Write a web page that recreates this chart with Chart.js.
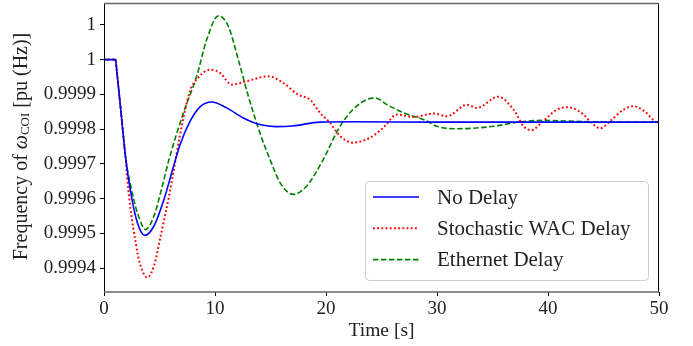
<!DOCTYPE html>
<html>
<head>
<meta charset="utf-8">
<script src="https://cdn.jsdelivr.net/npm/chart.js@4/dist/chart.umd.min.js"></script>
<style>
  html, body { margin: 0; padding: 0; background: #fff; }
  #c { display: block; }
</style>
</head>
<body>
<canvas id="c" width="693" height="346"></canvas>
<script>
// series
const noDelayTime = [0, 1.05, 1.1, 1.5, 1.95, 2.41, 3.0, 3.67, 4.5, 5.41, 6.31, 6.85, 7.75, 8.65, 9.7, 11.05, 12.55, 14.05, 15.5, 17.0, 19.46, 22.4, 30, 40, 50];
const noDelayFreq = [1.0, 1.0, 0.999984, 0.999859, 0.999717, 0.999617, 0.999531, 0.999494, 0.999521, 0.999598, 0.999698, 0.999755, 0.999822, 0.999864, 0.999878, 0.999861, 0.999832, 0.999813, 0.999807, 0.999809, 0.99982, 0.999821, 0.99982, 0.99982, 0.99982];

const wacTime = [0, 1.05, 1.1, 1.5, 1.95, 2.1, 2.4, 2.85, 3.3, 3.9, 4.5, 5.1, 5.86, 6.3, 6.8, 7.75, 8.35, 9.55, 10.45, 11.5, 12.85, 14.8, 16.15, 17.5, 18.56, 19.46, 20.36, 21.26, 22.46, 23.96, 25.16, 26.4, 27.9, 29.7, 30.9, 32.7, 33.6, 35.5, 36.9, 37.8, 38.5, 39.4, 40.8, 41.8, 43.0, 44.1, 44.7, 45.6, 46.8, 47.7, 48.7, 49.6, 50];
const wacFreq = [1.0, 1.0, 0.999984, 0.999859, 0.999717, 0.999655, 0.999569, 0.999473, 0.999406, 0.999373, 0.999406, 0.999492, 0.999607, 0.999684, 0.999775, 0.99991, 0.999943, 0.999971, 0.999962, 0.999928, 0.999938, 0.999952, 0.999933, 0.999899, 0.999885, 0.999847, 0.999818, 0.99978, 0.999761, 0.999775, 0.999804, 0.999842, 0.999835, 0.999845, 0.999837, 0.99987, 0.999861, 0.999893, 0.999856, 0.999808, 0.999797, 0.999818, 0.999856, 0.999863, 0.999847, 0.999813, 0.999802, 0.999823, 0.999856, 0.999866, 0.999851, 0.999823, 0.999815];

const ethernetTime = [0, 1.05, 1.1, 1.5, 1.95, 2.41, 3.0, 3.75, 4.5, 5.25, 5.86, 7.2, 8.35, 9.25, 10.3, 11.2, 12.1, 13.0, 14.2, 14.95, 15.86, 17.05, 18.26, 19.76, 21.26, 22.76, 24.4, 25.5, 27.0, 29.1, 29.97, 31.8, 35.1, 37.5, 39.6, 42, 45, 50];
const ethernetFreq = [1.0, 1.0, 0.999984, 0.999859, 0.999717, 0.999636, 0.99956, 0.999511, 0.99955, 0.999636, 0.999713, 0.999851, 0.999952, 1.000057, 1.000126, 1.000096, 1.0, 0.999895, 0.999775, 0.999713, 0.999646, 0.999612, 0.999636, 0.999713, 0.999808, 0.999866, 0.99989, 0.99987, 0.999847, 0.999823, 0.999808, 0.999801, 0.999808, 0.999821, 0.999825, 0.999823, 0.99982, 0.99982];

const seriesNames = ["No Delay", "Stochastic WAC Delay", "Ethernet Delay"];
const yTickValues = [0.9994, 0.9995, 0.9996, 0.9997, 0.9998, 0.9999, 1.0, 1.0001];
const yTickLabels = ["0.9994", "0.9995", "0.9996", "0.9997", "0.9998", "0.9999", "1", "1"];
const xTickStep = 10;

const serif = "'Liberation Serif', 'DejaVu Serif', serif";

function pts(t, v) {
  return t.map((x, i) => ({ x: x, y: v[i] }));
}

// box around the plot + legend inside the plot area + y title
const framePlugin = {
  id: 'frame',
  afterDraw(chart) {
    const ctx = chart.ctx;
    const a = chart.chartArea;
    ctx.save();
    ctx.strokeStyle = '#000';
    ctx.lineWidth = 1;
    ctx.beginPath();
    ctx.moveTo(a.left + 0.5, a.top);
    ctx.lineTo(a.left + 0.5, a.bottom);
    ctx.moveTo(a.right - 0.5, a.top);
    ctx.lineTo(a.right - 0.5, a.bottom);
    ctx.stroke();
    ctx.strokeStyle = '#666';
    ctx.lineWidth = 1.5;
    ctx.beginPath();
    ctx.moveTo(a.left, a.top + 0.5);
    ctx.lineTo(a.right, a.top + 0.5);
    ctx.moveTo(a.left, a.bottom);
    ctx.lineTo(a.right, a.bottom);
    ctx.stroke();

    // legend
    const w = 283, h = 99;
    const bx = a.right - 11 - w, by = a.bottom - 12 - h;
    ctx.fillStyle = 'rgba(255,255,255,0.85)';
    ctx.strokeStyle = '#cccccc';
    ctx.lineWidth = 1;
    ctx.beginPath();
    ctx.roundRect(bx + 0.5, by + 0.5, w, h, 4);
    ctx.fill();
    ctx.stroke();
    ctx.font = '21px ' + serif;
    ctx.textBaseline = 'middle';
    chart.data.datasets.forEach((ds, i) => {
      const y = by + 16 + i * 31.3;
      ctx.strokeStyle = ds.borderColor;
      ctx.lineWidth = ds.borderWidth;
      ctx.setLineDash(ds.borderDash || []);
      ctx.beginPath();
      ctx.moveTo(bx + 8, y);
      ctx.lineTo(bx + 54, y);
      ctx.stroke();
      ctx.setLineDash([]);
      ctx.fillStyle = '#222';
      ctx.fillText(ds.label, bx + 72, y + 1);
    });

    // y axis title with subscript
    const parts = [
      { s: 'Frequency of ', f: '20px ' + serif, dy: 0 },
      { s: 'ω', f: 'italic 20px ' + serif, dy: 0 },
      { s: 'COI', f: '13px ' + serif, dy: 4 },
      { s: ' [pu (Hz)]', f: '20px ' + serif, dy: 0 }
    ];
    let total = 0;
    parts.forEach(p => { ctx.font = p.f; p.w = ctx.measureText(p.s).width; total += p.w; });
    ctx.translate(22, 146.5);
    ctx.rotate(-Math.PI / 2);
    ctx.fillStyle = '#222';
    ctx.textBaseline = 'middle';
    let x = -total / 2;
    parts.forEach(p => {
      ctx.font = p.f;
      ctx.fillText(p.s, x, p.dy);
      x += p.w;
    });
    ctx.restore();
  }
};

new Chart(document.getElementById('c'), {
  type: 'line',
  data: {
    datasets: [
      {
        label: seriesNames[0],
        data: pts(noDelayTime, noDelayFreq),
        borderColor: '#0000ff',
        borderWidth: 1.6
      },
      {
        label: seriesNames[1],
        data: pts(wacTime, wacFreq),
        borderColor: '#ff0000',
        borderWidth: 2,
        borderDash: [1.8, 2.4]
      },
      {
        label: seriesNames[2],
        data: pts(ethernetTime, ethernetFreq),
        borderColor: '#008000',
        borderWidth: 1.6,
        borderDash: [5.5, 2.5]
      }
    ]
  },
  options: {
    responsive: false,
    animation: false,
    devicePixelRatio: 1,
    elements: {
      point: { radius: 0 },
      line: { cubicInterpolationMode: 'monotone', fill: false }
    },
    layout: { padding: { top: 3, right: 34, left: 0, bottom: 0 } },
    scales: {
      x: {
        type: 'linear',
        min: 0,
        max: 50,
        ticks: { stepSize: xTickStep, color: '#222', font: { family: serif, size: 19 }, padding: 2, maxRotation: 0 },
        grid: { drawOnChartArea: false, color: '#000', tickLength: 4 },
        border: { display: false },
        title: { display: true, text: 'Time [s]', color: '#222', font: { family: serif, size: 19.5 }, padding: { top: 0, bottom: 3 } },
        afterFit(scale) {
          scale.height = 54;
          scale.paddingLeft = 0;
          scale.paddingRight = 0;
        }
      },
      y: {
        min: 0.999331,
        max: 1.000163,
        afterBuildTicks(scale) {
          scale.ticks = yTickValues.map(v => ({ value: v }));
        },
        ticks: {
          color: '#222',
          font: { family: serif, size: 19 },
          padding: 4,
          callback: (value, index) => yTickLabels[index]
        },
        grid: { drawOnChartArea: false, color: '#000', tickLength: 4 },
        border: { display: false },
        afterFit(scale) {
          scale.width = 104;
          scale.paddingTop = 0;
          scale.paddingBottom = 0;
        }
      }
    },
    plugins: {
      legend: { display: false },
      tooltip: { enabled: false }
    }
  },
  plugins: [framePlugin]
});
</script>
</body>
</html>
